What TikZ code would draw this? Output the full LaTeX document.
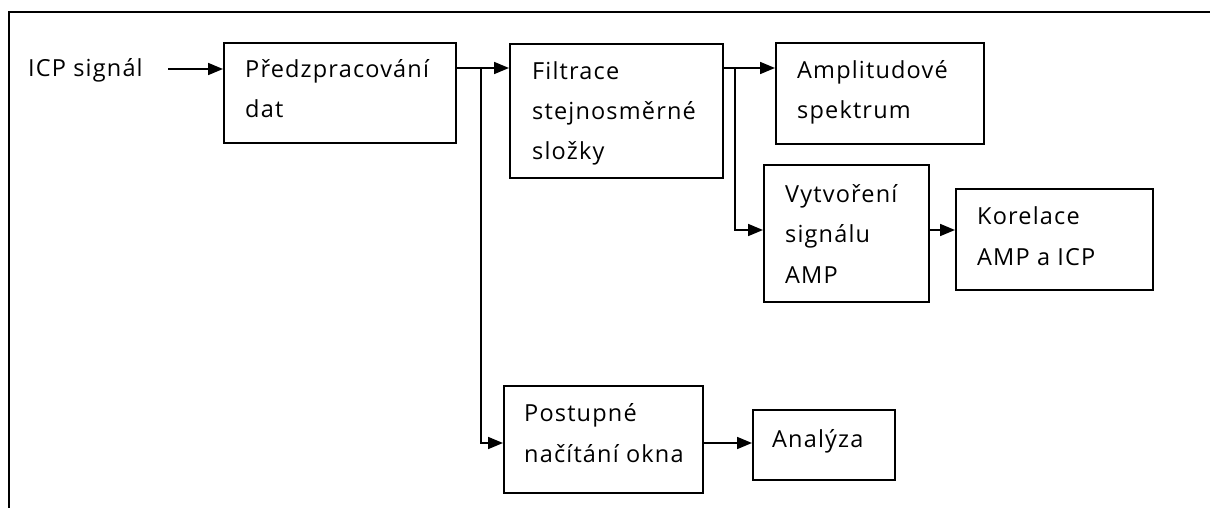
\documentclass[tikz,border=0pt]{standalone}
\usepackage{fontspec}
\setmainfont{Open Sans}[LetterSpace=5]
\usetikzlibrary{arrows.meta}
\tikzset{
  box/.style={draw, line width=1.7pt, inner sep=0pt, anchor=north west},
  lbl/.style={anchor=base west, inner sep=0pt, align=left,
    font=\fontsize{23.5}{40.5}\selectfont},
  arr/.style={line width=1.7pt, -{Triangle[length=15pt,width=12pt]}}
}
\begin{document}
\begin{tikzpicture}[x=1pt,y=-1pt]
\useasboundingbox (0,0) rectangle (1210,508);
% outer frame (top and left edges)
\draw[line width=1.9pt] (9,508) -- (9,12) -- (1210,12);

% blocks
\node[box, minimum width=232pt, minimum height=100pt] (pre)  at (223,42)  {};
\node[box, minimum width=213pt, minimum height=134pt] (filt) at (509,43)  {};
\node[box, minimum width=208pt, minimum height=101pt] (ampl) at (775,42)  {};
\node[box, minimum width=165pt, minimum height=137pt] (vyt)  at (763,164) {};
\node[box, minimum width=197pt, minimum height=101pt] (kor)  at (955,188) {};
\node[box, minimum width=199pt, minimum height=107pt] (post) at (503,385) {};
\node[box, minimum width=142pt, minimum height=70pt]  (anal) at (752,409) {};

% labels (anchored at the baseline of their last line)
\node[lbl] (tIcp)  at (28,77)   {ICP signál};
\node[lbl] (tPre)  at (245,118) {Předzpracování\\dat};
\node[lbl] (tFilt) at (532,160) {Filtrace\\stejnosměrné\\složky};
\node[lbl] (tAmpl) at (797,119) {Amplitudové\\spektrum};
\node[lbl] (tVyt)  at (785,283) {Vytvoření\\signálu\\AMP};
\node[lbl] (tKor)  at (977,265) {Korelace\\AMP a ICP};
\node[lbl] (tPost) at (524,462) {Postupné\\načítání okna};
\node[lbl] (tAnal) at (772,447) {Analýza};

% branch points and connector levels
\coordinate (src) at (168,69);
\coordinate (j1) at (481,68);
\coordinate (j2) at (735,68);
\coordinate (yV) at (0,230);
\coordinate (yP) at (0,443);

% connectors
\draw[arr] (src) -- (pre.west |- src);
\draw[arr] (pre.east |- j1) -- (filt.west |- j1);
\draw[arr] (j1) |- (post.west |- yP);
\draw[arr] (filt.east |- j2) -- (ampl.west |- j2);
\draw[arr] (j2) |- (vyt.west |- yV);
\draw[arr] (vyt.east |- yV) -- (kor.west |- yV);
\draw[arr] (post.east |- yP) -- (anal.west |- yP);
\end{tikzpicture}
\end{document}
